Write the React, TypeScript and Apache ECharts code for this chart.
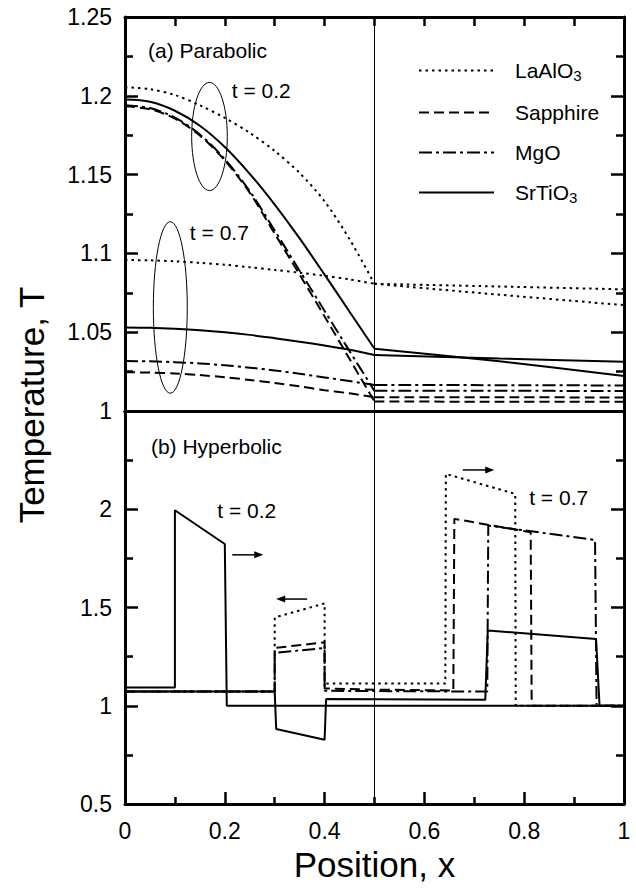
import React, { useEffect, useRef } from 'react';
import * as echarts from 'echarts';

const FONT = '"Liberation Sans", Arial, Helvetica, sans-serif';

// Substrate materials (film occupies 0..0.5, substrate 0.5..1)
const materials = ['LaAlO3', 'Sapphire', 'MgO', 'SrTiO3'];
const legendLabels = ['{g| }{n|LaAlO}{s|3}', '{g| }{n|Sapphire}', '{g| }{n|MgO}', '{g| }{n|SrTiO}{s|3}'];

// (a) Parabolic model — positions in the film and in the substrate
const xFilm = [0, 0.05, 0.1, 0.15, 0.2, 0.25, 0.3, 0.35, 0.4, 0.45, 0.5];
const xSub = [0.5, 0.75, 1];

// t = 0.2
const laFilmT02 = [1.2054, 1.2042, 1.2005, 1.194, 1.186, 1.1765, 1.165, 1.151, 1.133, 1.109, 1.0807];
const saFilmT02 = [1.1933, 1.1915, 1.1855, 1.1748, 1.159, 1.1385, 1.1125, 1.0865, 1.06, 1.033, 1.006];
const mgFilmT02 = [1.194, 1.1922, 1.1862, 1.1755, 1.1598, 1.1395, 1.1145, 1.089, 1.0635, 1.038, 1.0127];
const srFilmT02 = [1.1976, 1.1962, 1.1905, 1.181, 1.1675, 1.1505, 1.131, 1.1095, 1.0865, 1.063, 1.0395];
const laSubT02 = [1.0807, 1.0738, 1.0672];
const saSubT02 = [1.006, 1.0059, 1.0058];
const mgSubT02 = [1.0128, 1.0128, 1.0127];
const srSubT02 = [1.0395, 1.0316, 1.0222];

// t = 0.7
const laFilmT07 = [1.0958, 1.0956, 1.095, 1.094, 1.0928, 1.0912, 1.0895, 1.0877, 1.0858, 1.0835, 1.0807];
const saFilmT07 = [1.0246, 1.0244, 1.0238, 1.0228, 1.0214, 1.0197, 1.0178, 1.0156, 1.0132, 1.0112, 1.0088];
const mgFilmT07 = [1.0317, 1.0315, 1.031, 1.0302, 1.029, 1.0275, 1.0257, 1.0236, 1.0213, 1.019, 1.0165];
const srFilmT07 = [1.053, 1.0528, 1.0522, 1.0513, 1.05, 1.0483, 1.0462, 1.044, 1.0415, 1.0388, 1.0355];
const laSubT07 = [1.0807, 1.079, 1.0772];
const saSubT07 = [1.0088, 1.0087, 1.0086];
const mgSubT07 = [1.0165, 1.0164, 1.0162];
const srSubT07 = [1.0355, 1.0333, 1.0312];

// (b) Hyperbolic model — [x, T] profiles; at t = 0.2 all substrates coincide
const hypT02 = [[0, 1.093], [0.1, 1.093], [0.1, 1.995], [0.2, 1.823], [0.204, 1.0], [1, 1.0]];
const hypLaT07 = [[0, 1.072], [0.3, 1.072], [0.3, 1.449], [0.4, 1.521], [0.4, 1.113], [0.642, 1.113], [0.643, 2.18], [0.782, 2.078], [0.783, 1.0], [1, 1.0]];
const hypSaT07 = [[0, 1.072], [0.3, 1.072], [0.3, 1.294], [0.4, 1.323], [0.4, 1.088], [0.5, 1.082], [0.658, 1.078], [0.66, 1.951], [0.813, 1.883], [0.815, 1.0], [1, 1.0]];
const hypMgT07 = [[0, 1.072], [0.3, 1.072], [0.3, 1.269], [0.4, 1.294], [0.4, 1.076], [0.726, 1.072], [0.728, 1.917], [0.942, 1.844], [0.945, 1.0], [1, 1.0]];
const hypSrT07 = [[0, 1.072], [0.3, 1.072], [0.303, 0.882], [0.4, 0.827], [0.403, 1.034], [0.722, 1.031], [0.727, 1.383], [0.944, 1.34], [0.951, 1.0], [1, 1.0]];

// Annotations
const topNotes = ['(a) Parabolic', 't = 0.2', 't = 0.7'];
const topNotePos = [[0.046, 1.2287], [0.214, 1.2034], [0.13, 1.1133]];
const topRings = [[0.1693, 1.1742, 0.0357, 0.0343], [0.0908, 1.0657, 0.034, 0.0544]];
const botNotes = ['(b) Hyperbolic', 't = 0.2', 't = 0.7'];
const botNotePos = [[0.052, 2.318], [0.185, 1.995], [0.81, 2.06]];
const botArrows = [[0.215, 0.277, 1.768], [0.365, 0.303, 1.543], [0.677, 0.74, 2.2]];

const yTicksTop = { min: 1, max: 1.25, interval: 0.05 };
const yTicksBottom = { min: 0.5, max: 2.5, interval: 0.5 };

const dashOf: Record<string, any> = {
  LaAlO3: [2.5, 4],
  Sapphire: [10, 5],
  MgO: [13, 4, 3, 4],
  SrTiO3: 'solid',
};

function lineSeries(name: string, data: number[][], grid: number, smooth: number | boolean) {
  return {
    type: 'line',
    name,
    xAxisIndex: grid === 0 ? 0 : 2,
    yAxisIndex: grid === 0 ? 0 : 2,
    data,
    smooth,
    symbol: 'none',
    showSymbol: false,
    silent: true,
    itemStyle: { color: '#000' },
    lineStyle: { color: '#000', width: 2, type: dashOf[name] },
    z: name === 'SrTiO3' ? 4 : 3,
  };
}

const pair = (xs: number[], ys: number[]) => xs.map((x, i) => [x, ys[i]]);

function buildOption() {
  const filmT02 = [laFilmT02, saFilmT02, mgFilmT02, srFilmT02];
  const filmT07 = [laFilmT07, saFilmT07, mgFilmT07, srFilmT07];
  const subT02 = [laSubT02, saSubT02, mgSubT02, srSubT02];
  const subT07 = [laSubT07, saSubT07, mgSubT07, srSubT07];
  const hypT07 = [hypLaT07, hypSaT07, hypMgT07, hypSrT07];

  const series: any[] = [];
  materials.forEach((m, i) => {
    series.push(lineSeries(m, pair(xFilm, filmT02[i]), 0, 0.3));
    series.push(lineSeries(m, pair(xFilm, filmT07[i]), 0, 0.3));
    series.push(lineSeries(m, pair(xSub, subT02[i]), 0, 0.3));
    series.push(lineSeries(m, pair(xSub, subT07[i]), 0, 0.3));
  });
  materials.forEach((m, i) => {
    series.push(lineSeries(m, hypT07[i], 1, false));
  });
  const interfaceLine = {
    silent: true,
    symbol: ['none', 'none'],
    label: { show: false },
    lineStyle: { color: '#000', width: 1, type: 'solid' },
    data: [{ xAxis: 0.5 }],
  };
  series.push({ ...lineSeries('SrTiO3', hypT02, 1, false), markLine: interfaceLine });
  series[3].markLine = interfaceLine;

  const textItem = (notes: string[]) => (params: any, api: any) => {
    const p = api.coord([api.value(0), api.value(1)]);
    return {
      type: 'text',
      x: p[0],
      y: p[1],
      style: {
        text: notes[params.dataIndex],
        fontSize: 21,
        fontFamily: FONT,
        fill: '#000',
        align: 'left',
        verticalAlign: 'middle',
      },
    };
  };

  series.push({
    type: 'custom',
    xAxisIndex: 0,
    yAxisIndex: 0,
    silent: true,
    clip: false,
    data: topNotePos,
    renderItem: textItem(topNotes),
    z: 6,
  });
  series.push({
    type: 'custom',
    xAxisIndex: 2,
    yAxisIndex: 2,
    silent: true,
    clip: false,
    data: botNotePos,
    renderItem: textItem(botNotes),
    z: 6,
  });
  series.push({
    type: 'custom',
    xAxisIndex: 0,
    yAxisIndex: 0,
    silent: true,
    clip: false,
    data: topRings,
    renderItem: (params: any, api: any) => {
      const c = api.coord([api.value(0), api.value(1)]);
      const s = api.size([api.value(2), api.value(3)]);
      return {
        type: 'ellipse',
        shape: { cx: c[0], cy: c[1], rx: s[0], ry: s[1] },
        style: { fill: 'none', stroke: '#000', lineWidth: 1 },
      };
    },
    z: 6,
  });
  series.push({
    type: 'custom',
    xAxisIndex: 2,
    yAxisIndex: 2,
    silent: true,
    clip: false,
    encode: { x: [0, 1], y: 2 },
    data: botArrows,
    renderItem: (params: any, api: any) => {
      const a = api.coord([api.value(0), api.value(2)]);
      const b = api.coord([api.value(1), api.value(2)]);
      const dir = b[0] > a[0] ? 1 : -1;
      const head = 9;
      const hw = 3.5;
      return {
        type: 'group',
        children: [
          {
            type: 'line',
            shape: { x1: a[0], y1: a[1], x2: b[0] - dir * head * 0.7, y2: b[1] },
            style: { stroke: '#000', lineWidth: 1.5 },
          },
          {
            type: 'polygon',
            shape: { points: [[b[0], b[1]], [b[0] - dir * head, b[1] - hw], [b[0] - dir * head, b[1] + hw]] },
            style: { fill: '#000' },
          },
        ],
      };
    },
    z: 6,
  });

  const axisLine = { show: true, onZero: false, lineStyle: { color: '#000', width: 3 } };
  const tick = (len: number) => ({ show: true, inside: true, length: len, lineStyle: { color: '#000', width: 2.5 } });
  const minor = (len: number) => ({ show: true, splitNumber: 2, length: len, lineStyle: { color: '#000', width: 2.5 } });
  const label = { color: '#000', fontSize: 23, fontFamily: FONT };
  const noLabel = { show: false };
  const noSplit = { show: false };

  return {
    animation: false,
    backgroundColor: '#fff',
    textStyle: { fontFamily: FONT },
    grid: [
      { left: 125, top: 17, width: 499, height: 394, containLabel: false },
      { left: 125, top: 411, width: 499, height: 393, containLabel: false },
    ],
    xAxis: [
      { gridIndex: 0, type: 'value', min: 0, max: 1, interval: 0.1, position: 'bottom', axisLine, axisTick: { show: false }, axisLabel: noLabel, splitLine: noSplit },
      { gridIndex: 0, type: 'value', min: 0, max: 1, interval: 0.1, position: 'top', axisLine, axisTick: tick(9), axisLabel: noLabel, splitLine: noSplit },
      {
        gridIndex: 1, type: 'value', min: 0, max: 1, interval: 0.2, position: 'bottom', axisLine,
        axisTick: tick(12), minorTick: minor(7), axisLabel: { ...label, margin: 15 }, splitLine: noSplit,
        name: 'Position, x', nameLocation: 'middle', nameGap: 43,
        nameTextStyle: { color: '#000', fontSize: 35, fontFamily: FONT },
      },
      { gridIndex: 1, type: 'value', min: 0, max: 1, interval: 0.2, position: 'top', axisLine, axisTick: { show: false }, axisLabel: noLabel, splitLine: noSplit },
    ],
    yAxis: [
      { gridIndex: 0, type: 'value', ...yTicksTop, position: 'left', axisLine, axisTick: tick(13), minorTick: minor(8), axisLabel: { ...label, margin: 13 }, splitLine: noSplit },
      { gridIndex: 0, type: 'value', ...yTicksTop, position: 'right', axisLine, axisTick: tick(13), minorTick: minor(8), axisLabel: noLabel, splitLine: noSplit },
      { gridIndex: 1, type: 'value', ...yTicksBottom, position: 'left', axisLine, axisTick: tick(13), minorTick: minor(8), axisLabel: { ...label, margin: 13, showMaxLabel: false }, splitLine: noSplit },
      { gridIndex: 1, type: 'value', ...yTicksBottom, position: 'right', axisLine, axisTick: tick(13), minorTick: minor(8), axisLabel: noLabel, splitLine: noSplit },
    ],
    legend: {
      data: materials,
      orient: 'vertical',
      left: 413,
      top: 55,
      itemWidth: 75,
      itemHeight: 14,
      itemGap: 19,
      selectedMode: false,
      itemStyle: { opacity: 0 },
      formatter: (name: string) => legendLabels[materials.indexOf(name)],
      textStyle: {
        color: '#000',
        fontFamily: FONT,
        fontSize: 21,
        rich: {
          g: { width: 16 },
          n: { fontSize: 21, fontFamily: FONT, color: '#000', lineHeight: 24 },
          s: { fontSize: 15, fontFamily: FONT, color: '#000', padding: [10, 0, 0, 0] },
        },
      },
    },
    graphic: [
      {
        type: 'text',
        x: 31,
        y: 405,
        rotation: Math.PI / 2,
        style: {
          text: 'Temperature, T',
          fontSize: 35,
          fontFamily: FONT,
          fill: '#000',
          align: 'center',
          verticalAlign: 'middle',
        },
      },
    ],
    series,
  };
}

export default function App() {
  const ref = useRef<HTMLDivElement>(null);
  useEffect(() => {
    if (!ref.current) return;
    const chart = echarts.init(ref.current, undefined, { renderer: 'svg', width: 636, height: 889 });
    chart.setOption(buildOption() as any);
    return () => chart.dispose();
  }, []);
  return (
    <div
      ref={ref}
      style={{ position: 'fixed', left: 0, top: 0, width: 636, height: 889, background: '#fff' }}
    />
  );
}
